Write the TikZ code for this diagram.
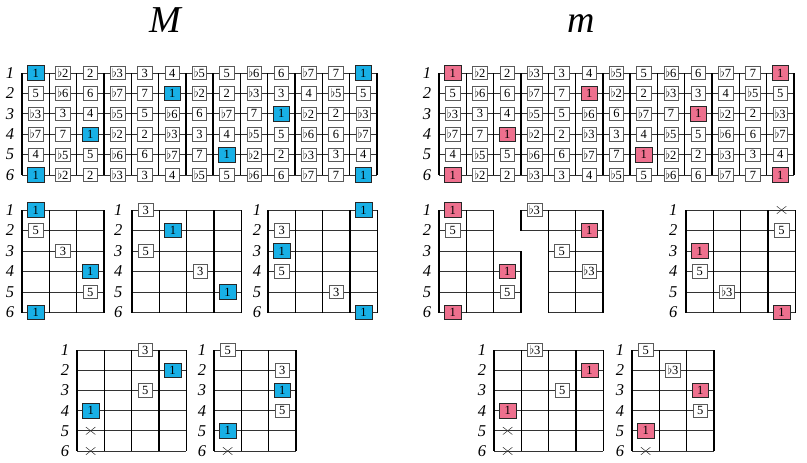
\documentclass[tikz,border=0pt]{standalone}
\usepackage{fontspec}
\setmainfont{Liberation Serif}
\usetikzlibrary{shapes.misc}
\definecolor{nblue}{RGB}{24,176,230}
\definecolor{npink}{RGB}{238,112,142}
\newcommand\notename[1]{\ifcase\numexpr#1\relax 1\or$\flat$2\or 2\or$\flat$3\or 3\or 4\or$\flat$5\or 5\or$\flat$6\or 6\or$\flat$7\or 7\fi}
\newcommand\fl[1]{$\flat$#1}
\tikzset{
  fretline/.style={line width=1.4pt, black},
  strline/.style={line width=0.7pt, black!80},
  notebox/.style={draw=black!65, line width=0.6pt, fill=white, minimum width=14.5pt, minimum height=13.5pt, inner sep=0pt, font=\fontsize{12.5}{13}\selectfont},
  rootM/.style={notebox, fill=nblue, draw=black!85, minimum width=16.5pt, minimum height=14.5pt},
  rootm/.style={notebox, fill=npink, draw=black!85, minimum width=16.5pt, minimum height=14.5pt},
  strlabel/.style={font=\itshape\fontsize{16.5}{18}\selectfont, inner sep=0pt},
  title/.style={font=\itshape\fontsize{38}{40}\selectfont, inner sep=0pt, anchor=base},
  xmark/.style={cross out, draw=black!80, line width=0.5pt, minimum width=9pt, minimum height=7pt, inner sep=0pt},
}
\begin{document}
\begin{tikzpicture}[x=1pt,y=-1pt]
\useasboundingbox (0,0) rectangle (807,463);
\node[title] (tM) at (165,32) {M};
\node[title] (tm) at (581,32) {m};

% ---------- top boards ----------
\begin{scope}[shift={(22pt,-52.6pt)}, x=27.3pt, y=-20.4pt]
  \foreach \s in {1,...,6} {\draw[strline] (0,\s) -- (13,\s); \node[strlabel] (MT-l\s) at (-0.44,\s) {\s};}
  \foreach \k in {0,...,13} \draw[fretline] (\k,1) -- (\k,6);
  \foreach \s/\o in {1/0,2/7,3/3,4/10,5/5,6/0} {
    \foreach \c in {0,...,12} {
      \pgfmathtruncatemacro\n{mod(\o+\c,12)}
      \ifnum\n=0 \tikzset{cur/.style={rootM}}\else\tikzset{cur/.style={notebox}}\fi
      \node[cur] (MT-\s-\c) at (\c+0.5,\s) {\notename{\n}};
    }
  }
\end{scope}
\begin{scope}[shift={(439pt,-52.6pt)}, x=27.3pt, y=-20.4pt]
  \foreach \s in {1,...,6} {\draw[strline] (0,\s) -- (13,\s); \node[strlabel] (mT-l\s) at (-0.44,\s) {\s};}
  \foreach \k in {0,...,13} \draw[fretline] (\k,1) -- (\k,6);
  \foreach \s/\o in {1/0,2/7,3/3,4/10,5/5,6/0} {
    \foreach \c in {0,...,12} {
      \pgfmathtruncatemacro\n{mod(\o+\c,12)}
      \ifnum\n=0 \tikzset{cur/.style={rootm}}\else\tikzset{cur/.style={notebox}}\fi
      \node[cur] (mT-\s-\c) at (\c+0.5,\s) {\notename{\n}};
    }
  }
\end{scope}

% ---------- middle row, M ----------
\begin{scope}[shift={(22pt,-189.5pt)}, x=27.3pt, y=-20.5pt]
  \foreach \s in {1,...,6} {\draw[strline] (0,\s) -- (3,\s); \node[strlabel] (M1-l\s) at (-0.44,\s) {\s};}
  \foreach \k in {0,...,3} \draw[fretline] (\k,1) -- (\k,6);
  \node[rootM] (M1-1) at (0.5,1) {1};
  \node[notebox] (M1-2) at (0.5,2) {5};
  \node[notebox] (M1-3) at (1.5,3) {3};
  \node[rootM] (M1-4) at (2.5,4) {1};
  \node[notebox] (M1-5) at (2.5,5) {5};
  \node[rootM] (M1-6) at (0.5,6) {1};
\end{scope}
\begin{scope}[shift={(132pt,-189.5pt)}, x=27.3pt, y=-20.5pt]
  \foreach \s in {1,...,6} {\draw[strline] (0,\s) -- (4,\s); \node[strlabel] (M2-l\s) at (-0.5,\s) {\s};}
  \foreach \k in {0,...,4} \draw[fretline] (\k,1) -- (\k,6);
  \node[notebox] (M2-1) at (0.5,1) {3};
  \node[rootM] (M2-2) at (1.5,2) {1};
  \node[notebox] (M2-3) at (0.5,3) {5};
  \node[notebox] (M2-4) at (2.5,4) {3};
  \node[rootM] (M2-5) at (3.5,5) {1};
\end{scope}
\begin{scope}[shift={(268pt,-189.5pt)}, x=27.3pt, y=-20.5pt]
  \foreach \s in {1,...,6} {\draw[strline] (0,\s) -- (4,\s); \node[strlabel] (M3-l\s) at (-0.4,\s) {\s};}
  \foreach \k in {0,...,4} \draw[fretline] (\k,1) -- (\k,6);
  \node[rootM] (M3-1) at (3.5,1) {1};
  \node[notebox] (M3-2) at (0.5,2) {3};
  \node[rootM] (M3-3) at (0.5,3) {1};
  \node[notebox] (M3-4) at (0.5,4) {5};
  \node[notebox] (M3-5) at (2.5,5) {3};
  \node[rootM] (M3-6) at (3.5,6) {1};
\end{scope}

% ---------- middle row, m ----------
\begin{scope}[shift={(439pt,-189.5pt)}, x=27.3pt, y=-20.5pt]
  \foreach \s in {1,...,6} {\node[strlabel] (m1-l\s) at (-0.44,\s) {\s};}
  % first shape
  \foreach \s in {1,2} \draw[strline] (0,\s) -- (2,\s);
  \foreach \s in {3,...,6} \draw[strline] (0,\s) -- (3,\s);
  \foreach \k in {0,1,2} \draw[fretline] (\k,1) -- (\k,6);
  \draw[fretline] (3,3) -- (3,6);
  % second shape
  \foreach \s in {1,2} \draw[strline] (3,\s) -- (6,\s);
  \foreach \s in {3,...,6} \draw[strline] (4,\s) -- (6,\s);
  \draw[fretline] (3,1) -- (3,2);
  \foreach \k in {4,5,6} \draw[fretline] (\k,1) -- (\k,6);
  \node[rootm] (m1-1) at (0.5,1) {1};
  \node[notebox] (m1-2) at (0.5,2) {5};
  \node[rootm] (m1-4) at (2.5,4) {1};
  \node[notebox] (m1-5) at (2.5,5) {5};
  \node[rootm] (m1-6) at (0.5,6) {1};
  \node[notebox] (m2-1) at (3.5,1) {\fl3};
  \node[rootm] (m2-2) at (5.5,2) {1};
  \node[notebox] (m2-3) at (4.5,3) {5};
  \node[notebox] (m2-4) at (5.5,4) {\fl3};
\end{scope}
\begin{scope}[shift={(686pt,-189.5pt)}, x=27.3pt, y=-20.5pt]
  \foreach \s in {1,...,6} {\draw[strline] (0,\s) -- (4,\s); \node[strlabel] (m3-l\s) at (-0.47,\s) {\s};}
  \foreach \k in {0,...,4} \draw[fretline] (\k,1) -- (\k,6);
  \node[xmark] (m3-1) at (3.5,1) {};
  \node[notebox] (m3-2) at (3.5,2) {5};
  \node[rootm] (m3-3) at (0.5,3) {1};
  \node[notebox] (m3-4) at (0.5,4) {5};
  \node[notebox] (m3-5) at (1.5,5) {\fl3};
  \node[rootm] (m3-6) at (3.5,6) {1};
\end{scope}

% ---------- bottom row ----------
\begin{scope}[shift={(77pt,-329.8pt)}, x=27.3pt, y=-20.2pt]
  \foreach \s in {1,...,6} {\draw[strline] (0,\s) -- (4,\s); \node[strlabel] (M4-l\s) at (-0.44,\s) {\s};}
  \foreach \k in {0,...,4} \draw[fretline] (\k,1) -- (\k,6);
  \node[notebox] (M4-1) at (2.5,1) {3};
  \node[rootM] (M4-2) at (3.5,2) {1};
  \node[notebox] (M4-3) at (2.5,3) {5};
  \node[rootM] (M4-4) at (0.5,4) {1};
  \node[xmark] (M4-5) at (0.5,5) {};
  \node[xmark] (M4-6) at (0.5,6) {};
\end{scope}
\begin{scope}[shift={(214pt,-329.8pt)}, x=27.3pt, y=-20.2pt]
  \foreach \s in {1,...,6} {\draw[strline] (0,\s) -- (3,\s); \node[strlabel] (M5-l\s) at (-0.44,\s) {\s};}
  \foreach \k in {0,...,3} \draw[fretline] (\k,1) -- (\k,6);
  \node[notebox] (M5-1) at (0.5,1) {5};
  \node[notebox] (M5-2) at (2.5,2) {3};
  \node[rootM] (M5-3) at (2.5,3) {1};
  \node[notebox] (M5-4) at (2.5,4) {5};
  \node[rootM] (M5-5) at (0.5,5) {1};
  \node[xmark] (M5-6) at (0.5,6) {};
\end{scope}
\begin{scope}[shift={(494pt,-329.8pt)}, x=27.3pt, y=-20.2pt]
  \foreach \s in {1,...,6} {\draw[strline] (0,\s) -- (4,\s); \node[strlabel] (m4-l\s) at (-0.44,\s) {\s};}
  \foreach \k in {0,...,4} \draw[fretline] (\k,1) -- (\k,6);
  \node[notebox] (m4-1) at (1.5,1) {\fl3};
  \node[rootm] (m4-2) at (3.5,2) {1};
  \node[notebox] (m4-3) at (2.5,3) {5};
  \node[rootm] (m4-4) at (0.5,4) {1};
  \node[xmark] (m4-5) at (0.5,5) {};
  \node[xmark] (m4-6) at (0.5,6) {};
\end{scope}
\begin{scope}[shift={(632pt,-329.8pt)}, x=27.3pt, y=-20.2pt]
  \foreach \s in {1,...,6} {\draw[strline] (0,\s) -- (3,\s); \node[strlabel] (m5-l\s) at (-0.44,\s) {\s};}
  \foreach \k in {0,...,3} \draw[fretline] (\k,1) -- (\k,6);
  \node[notebox] (m5-1) at (0.5,1) {5};
  \node[notebox] (m5-2) at (1.5,2) {\fl3};
  \node[rootm] (m5-3) at (2.5,3) {1};
  \node[notebox] (m5-4) at (2.5,4) {5};
  \node[rootm] (m5-5) at (0.5,5) {1};
  \node[xmark] (m5-6) at (0.5,6) {};
\end{scope}
\end{tikzpicture}
\end{document}
